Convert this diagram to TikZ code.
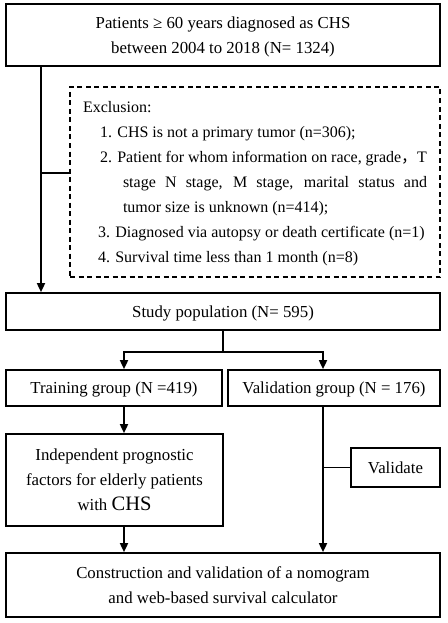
\documentclass[tikz,border=0pt]{standalone}
\usepackage{fontspec}
\setmainfont{Liberation Serif}
\newfontfamily\cjk{Noto Sans CJK SC}
\usetikzlibrary{arrows.meta}

\begin{document}
\begin{tikzpicture}[x=1pt, y=-1pt, >={Triangle[length=9pt,width=8pt]},
    caja/.style={draw, line width=1.7pt, align=center, inner sep=0pt, text depth=0pt,
        font=\fontsize{16.8}{25}\selectfont},
    flecha/.style={line width=1.7pt}]
        \useasboundingbox (0,0) rectangle (447,623);

        % Cajas
        \node[caja, minimum width=434pt, minimum height=62pt] (pob) at (223,35)
            {Patients ≥ 60 years diagnosed as CHS\\between 2004 to 2018 (N= 1324)};
        \node[caja, line width=1.4pt, dash pattern=on 5pt off 3.5pt, minimum width=370pt,
            minimum height=190pt, align=left, font=\fontsize{16}{25}\selectfont] (excl) at (255,182)
            {Exclusion:\\
            \hspace*{17pt}1. CHS is not a primary tumor (n=306);\\
            \hspace*{17pt}\makebox[327pt][s]{2. Patient for whom information on race, grade{\cjk ，}T}\\
            \hspace*{40pt}\makebox[304pt][s]{stage N stage, M stage, marital status and}\\
            \hspace*{40pt}tumor size is unknown (n=414);\\
            \hspace*{15pt}3. Diagnosed via autopsy or death certificate (n=1)\\
            \hspace*{15pt}4. Survival time less than 1 month (n=8)};
        \node[caja, minimum width=434pt, minimum height=37pt] (estudio) at (223,311.5)
            {Study population (N= 595)};
        \node[caja, minimum width=216pt, minimum height=36pt] (entren) at (114,388)
            {Training group (N =419)};
        \node[caja, minimum width=212pt, minimum height=36pt] (valid) at (334,388)
            {Validation group (N = 176)};
        \node[caja, minimum width=217pt, minimum height=92pt] (indep) at (114.5,480)
            {Independent prognostic\\factors for elderly patients\\with {\fontsize{20.5}{25}\selectfont CHS}};
        \node[caja, minimum width=89pt, minimum height=39pt] (vald) at (395.5,467.5)
            {Validate};
        \node[caja, minimum width=434pt, minimum height=64pt] (final) at (223,585)
            {Construction and validation of a nomogram\\and web-based survival calculator};

        % Conexiones
        \coordinate (izq) at (41,0);
        \coordinate (ram) at (41,173);
        \coordinate (ent) at (124,0);
        \coordinate (val) at (323,0);
        \draw[flecha, ->] (pob.south -| izq) -- (estudio.north -| izq);
        \draw[flecha] (ram) -- (ram -| excl.west);
        \draw[flecha] (estudio.south) -- ++(0,21) coordinate (div);
        \draw[flecha, line cap=rect] (div -| ent) -- (div -| val);
        \draw[flecha, ->] (div -| ent) -- (entren.north -| ent);
        \draw[flecha, ->] (div -| val) -- (valid.north -| val);
        \draw[flecha, ->] (entren.south -| ent) -- (indep.north -| ent);
        \draw[flecha, ->] (indep.south -| ent) -- (final.north -| ent);
        \draw[flecha, ->] (valid.south -| val) -- (final.north -| val);
        \draw[flecha] (vald.west -| val) -- (vald.west);
    \end{tikzpicture}
\end{document}
